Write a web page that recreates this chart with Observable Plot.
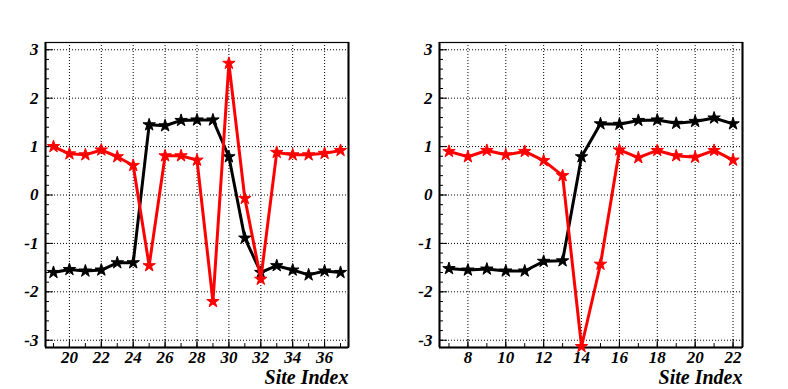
<!DOCTYPE html>
<html>
<head>
<meta charset="utf-8">
<script src="https://cdn.jsdelivr.net/npm/d3@7"></script>
<script src="https://cdn.jsdelivr.net/npm/@observablehq/plot@0.6"></script>
<style>
  html, body { margin: 0; padding: 0; background: #fff; }
  #wrap { display: flex; flex-direction: row; width: 788px; height: 389px; }
  #wrap svg text {
    font-family: 'Liberation Serif', 'DejaVu Serif', serif;
    font-weight: bold;
    font-style: italic;
    fill: black;
  }
</style>
</head>
<body>
<div id="wrap"></div>
<script>
// ---- Data ----
const leftSites  = [19,20,21,22,23,24,25,26,27,28,29,30,31,32,33,34,35,36,37];
const leftBlack  = [-1.60,-1.54,-1.57,-1.55,-1.40,-1.40,1.45,1.43,1.54,1.55,1.55,0.79,-0.89,-1.60,-1.46,-1.55,-1.65,-1.57,-1.60];
const leftRed    = [1.00,0.85,0.83,0.93,0.79,0.61,-1.46,0.81,0.81,0.72,-2.20,2.72,-0.07,-1.74,0.88,0.83,0.83,0.86,0.92];

const rightSites = [7,8,9,10,11,12,13,14,15,16,17,18,19,20,21,22];
const rightBlack = [-1.52,-1.55,-1.53,-1.57,-1.57,-1.37,-1.36,0.79,1.47,1.46,1.54,1.55,1.48,1.52,1.59,1.47];
const rightRed   = [0.90,0.79,0.92,0.83,0.90,0.71,0.40,-3.13,-1.43,0.93,0.77,0.92,0.81,0.78,0.92,0.72];

const yMajorTicks = [-3,-2,-1,0,1,2,3];
const leftXMajor  = [20,22,24,26,28,30,32,34,36];
const rightXMajor = [8,10,12,14,16,18,20,22];
const xLabel = "Site Index";

function panel(sites, black, red, xDomain, xMajor) {
  const rows = sites.map((s, i) => ({site: s, black: black[i], red: red[i]}));
  const yDomain = [-3.15, 3.15];
  const yMinor = d3.range(-30, 31, 2).map(v => v / 10);
  const xMinor = d3.range(Math.ceil(xDomain[0]), Math.floor(xDomain[1]) + 1);
  const dotted = {stroke: "black", strokeOpacity: 1, strokeWidth: 1, strokeDasharray: "1,2"};
  return Plot.plot({
    width: 394, height: 389,
    marginLeft: 45, marginRight: 46, marginTop: 42, marginBottom: 42,
    x: {domain: xDomain, label: null},
    y: {domain: yDomain, label: null},
    style: {background: "white", color: "black"},
    marks: [
      Plot.gridX(xMajor, dotted),
      Plot.gridY(yMajorTicks, dotted),
      // minor & major ticks (inside)
      Plot.axisY({ticks: yMinor, tickSize: -4, tickFormat: () => "", label: null, strokeWidth: 1}),
      Plot.axisY({ticks: yMajorTicks, tickSize: -8, tickFormat: () => "", label: null, strokeWidth: 1}),
      Plot.axisY({ticks: yMajorTicks, tickSize: 0, tickPadding: 7, tickFormat: d => String(d), label: null, fontSize: 17}),
      Plot.axisX({ticks: xMinor, tickSize: -4, tickFormat: () => "", label: null, strokeWidth: 1}),
      Plot.axisX({ticks: xMajor, tickSize: -8, tickFormat: () => "", label: null, strokeWidth: 1}),
      Plot.axisX({ticks: xMajor, tickSize: 0, tickPadding: 3, tickFormat: d => String(d), label: null, fontSize: 17}),
      Plot.frame({stroke: "black", strokeWidth: 1.2}),
      Plot.ruleX(xDomain, {stroke: "black", strokeWidth: 2}),
      Plot.ruleY([yDomain[0]], {stroke: "black", strokeWidth: 2}),
      Plot.text([xLabel], {frameAnchor: "bottom-right", text: d => d, textAnchor: "end", lineAnchor: "middle", dy: 30, fontSize: 20}),
      // series
      Plot.line(rows, {x: "site", y: "black", stroke: "black", strokeWidth: 3}),
      Plot.dot(rows, {x: "site", y: "black", symbol: "star", fill: "black", stroke: "black", strokeWidth: 1, r: 3.9}),
      Plot.line(rows, {x: "site", y: "red", stroke: "#ff0000", strokeWidth: 3}),
      Plot.dot(rows, {x: "site", y: "red", symbol: "star", fill: "#ff0000", stroke: "#ff0000", strokeWidth: 1, r: 3.9})
    ]
  });
}

const wrap = document.getElementById("wrap");
wrap.appendChild(panel(leftSites, leftBlack, leftRed, [18.5, 37.5], leftXMajor));
wrap.appendChild(panel(rightSites, rightBlack, rightRed, [6.5, 22.5], rightXMajor));
</script>
</body>
</html>
